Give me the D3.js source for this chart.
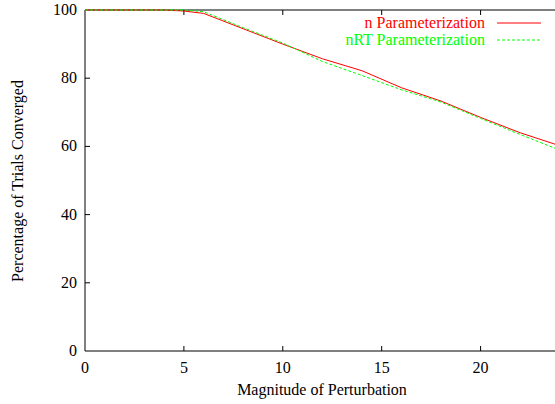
<!DOCTYPE html>
<html lang="en">
<head>
    <meta charset="UTF-8">
    <title>Convergence vs Perturbation</title>
    <script src="https://d3js.org/d3.v7.min.js"></script>
    <style>
        body { margin: 0; background: #fff; }
    </style>
</head>
<body>
    <svg></svg>
    <script>
        // values
        const perturbation = [0, 2, 4, 5, 6, 8, 10, 12, 14, 16, 18, 20, 22, 24];
        const nParam   = [100, 100, 100, 99.7, 99, 94.5, 90, 85.7, 82.2, 77.2, 73.3, 68.5, 64, 60.2];
        const nRTParam = [100, 100, 100, 100, 99.5, 94.8, 90.3, 84.9, 80.8, 76.6, 73, 68.2, 63.5, 58.9];
        const xTicks = [0, 5, 10, 15, 20];
        const yTicks = [0, 20, 40, 60, 80, 100];

        const width = 555, height = 404;
        const svg = d3.select("svg").attr("width", width).attr("height", height)
            .style("font-family", "'Liberation Serif', 'Times New Roman', Times, 'DejaVu Serif', serif")
            .style("font-size", "16px");

        const x = d3.scaleLinear().domain([0, 24]).range([85, 559.7]);
        const y = d3.scaleLinear().domain([0, 100]).range([351, 10]);

        // frame (left, bottom, top) -- right side is cut off in the original
        svg.append("path")
            .attr("d", `M${x(24) + 5},${y(100)}H${x(0)}V${y(0)}H${x(24) + 5}`)
            .attr("fill", "none").attr("stroke", "#000").attr("stroke-width", 1);

        // inward ticks, mirrored on top
        const tk = svg.append("g").attr("stroke", "#000").attr("stroke-width", 1);
        xTicks.slice(1).forEach(t => {
            tk.append("line").attr("x1", x(t)).attr("x2", x(t)).attr("y1", y(0)).attr("y2", y(0) - 5);
            tk.append("line").attr("x1", x(t)).attr("x2", x(t)).attr("y1", y(100)).attr("y2", y(100) + 5);
        });
        yTicks.slice(1, -1).forEach(t => {
            tk.append("line").attr("x1", x(0)).attr("x2", x(0) + 5).attr("y1", y(t)).attr("y2", y(t));
        });

        svg.selectAll(".xl").data(xTicks).join("text")
            .attr("x", d => x(d)).attr("y", y(0) + 22)
            .attr("text-anchor", "middle").text(d => d);
        svg.selectAll(".yl").data(yTicks).join("text")
            .attr("x", x(0) - 8).attr("y", d => y(d) + 5)
            .attr("text-anchor", "end").text(d => d);

        svg.append("text").attr("x", 322).attr("y", 395)
            .attr("text-anchor", "middle").text("Magnitude of Perturbation");
        svg.append("text").attr("transform", "translate(23,181) rotate(-90)")
            .attr("text-anchor", "middle").text("Percentage of Trials Converged");

        const series = [
            { name: "n Parameterization", values: nParam, color: "#ff0000", dash: null },
            { name: "nRT Parameterization", values: nRTParam, color: "#00ff00", dash: "3,2" }
        ];

        const line = d3.line().x(d => x(d[0])).y(d => y(d[1]));
        series.forEach((s, i) => {
            svg.append("path")
                .datum(perturbation.map((p, j) => [p, s.values[j]]))
                .attr("d", line)
                .attr("fill", "none").attr("stroke", s.color).attr("stroke-width", 1)
                .attr("stroke-dasharray", s.dash);

            const ly = 23 + i * 17;
            svg.append("text").attr("x", 485).attr("y", ly + 5)
                .attr("text-anchor", "end").attr("fill", s.color).text(s.name);
            svg.append("line").attr("x1", 497).attr("x2", 541).attr("y1", ly).attr("y2", ly)
                .attr("stroke", s.color).attr("stroke-width", 1).attr("stroke-dasharray", s.dash);
        });
    </script>
</body>
</html>
